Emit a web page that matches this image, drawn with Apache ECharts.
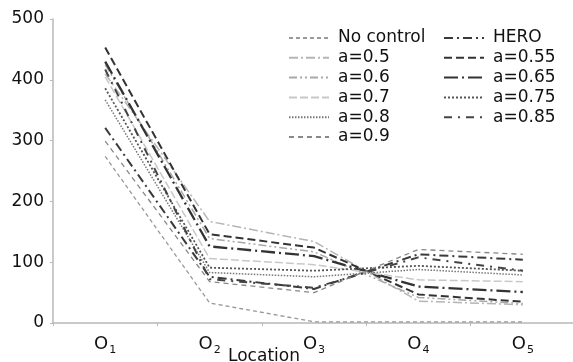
<!DOCTYPE html>
<html>
<head>
<meta charset="utf-8">
<script src="https://cdn.jsdelivr.net/npm/echarts@6/dist/echarts.min.js"></script>
<style>
  html, body { margin: 0; padding: 0; background: #fff; }
  #chart { width: 573px; height: 362px; }
</style>
</head>
<body>
<div id="chart"></div>
<script>
const locations = ['1', '2', '3', '4', '5'];

const noControl = [274, 33, 2, 2, 2];
const hero = [321, 76, 56, 113, 104];
const a050 = [410, 167, 134, 36, 30];
const a055 = [453, 146, 124, 47, 35];
const a060 = [425, 139, 117, 42, 32];
const a065 = [430, 126, 110, 60, 51];
const a070 = [405, 106, 96, 71, 68];
const a075 = [386, 91, 86, 94, 86];
const a080 = [367, 83, 76, 88, 79];
const a085 = [417, 72, 58, 108, 86];
const a090 = [299, 68, 50, 121, 113];

const yTicks = [0, 100, 200, 300, 400, 500];

const line = (name, data, color, width, dash) => ({
  name,
  type: 'line',
  data,
  symbol: 'none',
  silent: true,
  lineStyle: { color, width, type: dash },
  itemStyle: { color }
});

const chart = echarts.init(document.getElementById('chart'));

const legendText = {
  fontFamily: 'DejaVu Sans',
  fontSize: 17,
  color: '#111',
  lineHeight: 17,
  padding: [0, 0, 0, 4]
};

const legendBase = {
  orient: 'vertical',
  top: 24.5,
  itemWidth: 40,
  itemHeight: 10,
  itemGap: 2.8,
  itemStyle: { color: 'transparent', borderWidth: 0, opacity: 0 },
  textStyle: legendText
};

chart.setOption({
  backgroundColor: '#fff',
  animation: false,
  grid: { left: 53, right: -2, top: 19, bottom: 39, outerBoundsMode: 'none' },
  legend: [
    Object.assign({}, legendBase, {
      left: 283,
      data: ['No control', 'a=0.5', 'a=0.6', 'a=0.7', 'a=0.8', 'a=0.9']
    }),
    Object.assign({}, legendBase, {
      left: 438,
      data: ['HERO', 'a=0.55', 'a=0.65', 'a=0.75', 'a=0.85']
    })
  ],
  xAxis: {
    type: 'category',
    data: locations,
    boundaryGap: true,
    name: 'Location',
    nameLocation: 'middle',
    nameGap: 25,
    nameMoveOverlap: false,
    nameTextStyle: {
      fontFamily: 'DejaVu Sans',
      fontSize: 17,
      color: '#111',
      padding: [0, 100, 0, 0]
    },
    axisLine: { lineStyle: { color: '#b8b8b8', width: 1.5 } },
    axisTick: { show: true, length: 3, lineStyle: { color: '#b8b8b8' } },
    axisLabel: {
      margin: 11,
      formatter: (v) => '{o|O}{s|' + v + '}',
      rich: {
        o: { fontFamily: 'DejaVu Sans', fontSize: 18, color: '#111', lineHeight: 20 },
        s: { fontFamily: 'DejaVu Sans', fontSize: 11, color: '#111', lineHeight: 20, padding: [12, 0, 0, 1] }
      }
    }
  },
  yAxis: {
    type: 'value',
    min: yTicks[0],
    max: yTicks[yTicks.length - 1],
    interval: 100,
    splitLine: { show: false },
    axisLine: { show: true, lineStyle: { color: '#b8b8b8', width: 1.5 } },
    axisTick: { show: true, length: 3, lineStyle: { color: '#b8b8b8' } },
    axisLabel: {
      margin: 9,
      fontFamily: 'DejaVu Sans',
      fontSize: 17,
      color: '#111'
    }
  },
  series: [
    line('No control', noControl, '#999', 1.3, [4, 3]),
    line('HERO', hero, '#3a3a3a', 2, [9, 4, 2, 4]),
    line('a=0.5', a050, '#b5b5b5', 1.5, [9, 3, 2, 3]),
    line('a=0.55', a055, '#333', 2, [8, 4]),
    line('a=0.6', a060, '#a8a8a8', 1.5, [8, 3, 2, 3, 2, 3]),
    line('a=0.65', a065, '#333', 2.3, [14, 4, 2, 4]),
    line('a=0.7', a070, '#c8c8c8', 1.5, [8, 3]),
    line('a=0.75', a075, '#555', 1.8, [2, 2]),
    line('a=0.8', a080, '#777', 1.5, [1.5, 1.5]),
    line('a=0.85', a085, '#444', 2, [8, 6, 2, 6]),
    line('a=0.9', a090, '#888', 1.3, [5, 4])
  ]
});
</script>
</body>
</html>
